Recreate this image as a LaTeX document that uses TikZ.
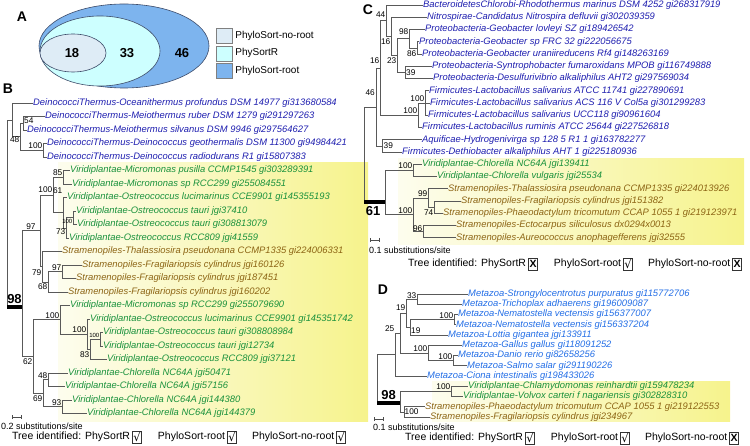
\documentclass[tikz,border=0pt]{standalone}
\usepackage{fontspec}
\setmainfont{Liberation Sans}
\newfontfamily\symfont{DejaVu Sans}
\usetikzlibrary{positioning, arrows.meta}
\definecolor{deino}{RGB}{30,30,175}
\definecolor{viri}{RGB}{25,145,60}
\definecolor{stram}{RGB}{140,100,20}
\definecolor{meta}{RGB}{35,110,230}
\definecolor{hlL}{RGB}{253,253,238}
\definecolor{hlR}{RGB}{246,243,140}
\definecolor{rootc}{RGB}{125,180,238}
\definecolor{physc}{RGB}{205,255,255}
\definecolor{norootc}{RGB}{222,236,246}
\definecolor{rim}{RGB}{60,75,105}
\tikzset{
  leaf/.style={anchor=west, inner sep=0pt, font=\fontsize{9.4}{10}\selectfont\itshape},
  br/.style={draw=black!65, line width=0.7pt},
  rootbar/.style={line width=4pt},
  boot/.style={inner sep=0pt, font=\fontsize{8.3}{9}\selectfont},
  bootsmall/.style={inner sep=0pt, font=\fontsize{6}{6}\selectfont},
  big/.style={inner sep=0pt, font=\fontsize{13}{13}\selectfont\bfseries},
  paneltag/.style={inner sep=0pt, font=\fontsize{14}{14}\selectfont\bfseries},
  idtxt/.style={anchor=west, inner sep=0pt, font=\fontsize{10.5}{11}\selectfont},
  subtxt/.style={anchor=west, inner sep=0pt, font=\fontsize{9}{9}\selectfont},
  keybox/.style={draw=black!50, minimum width=16pt, minimum height=15pt, inner sep=0pt},
  keytxt/.style={inner sep=0pt, font=\fontsize{10}{10}\selectfont},
  chk/.style={draw=black!80, line width=0.5pt, minimum width=9pt, minimum height=12pt, inner sep=0pt},
  tickyes/.style={chk, font=\symfont\fontsize{11.5}{11.5}\selectfont},
  tickno/.style={chk, font=\fontsize{10.5}{10.5}\selectfont\bfseries},
  scalebar/.style={draw=black!70, line width=0.6pt, {Bar[width=4pt]}-{Bar[width=4pt]}},
  hl/.style={left color=hlL, right color=hlR}
}
\begin{document}
\begin{tikzpicture}[x=1pt, y=-1pt]
\useasboundingbox (0,0) rectangle (750,446);

\node[paneltag] (tagA) at (22,17) {A};
\draw[fill=rootc, draw=rim, line width=0.6pt] (124,46) ellipse (85 and 42);
\draw[fill=physc, draw=rim, line width=0.6pt] (100,51) ellipse (60 and 35);
\draw[fill=norootc, draw=rim, line width=0.6pt] (73,53) ellipse (33 and 19);
\node[big] (n18) at (72,53) {18};
\node[big] (n33) at (127,53) {33};
\node[big] (n46) at (182,53) {46};
\node[keybox, fill=norootc] (k1) at (224,36) {};
\node[keytxt, right=3pt of k1] (k1t) {PhyloSort-no-root};
\node[keybox, fill=physc, below=2pt of k1] (k2) {};
\node[keytxt, right=3pt of k2] (k2t) {PhySortR};
\node[keybox, fill=rootc, below=2pt of k2] (k3) {};
\node[keytxt, right=3pt of k3] (k3t) {PhyloSort-root};

\node[paneltag] (tagB) at (8,89) {B};
\fill[hl] (58,163) rectangle (368,421);
\node[leaf,text=deino] (b1) at (33,103) {DeinococciThermus-Oceanithermus profundus DSM 14977 gi313680584};
\node[leaf,text=deino] (b2) at (45,116.5) {DeinococciThermus-Meiothermus ruber DSM 1279 gi291297263};
\node[leaf,text=deino] (b3) at (27,130) {DeinococciThermus-Meiothermus silvanus DSM 9946 gi297564627};
\node[leaf,text=deino] (b4) at (47,143.5) {DeinococciThermus-Deinococcus geothermalis DSM 11300 gi94984421};
\node[leaf,text=deino] (b5) at (47,157) {DeinococciThermus-Deinococcus radiodurans R1 gi15807383};
\node[leaf,text=viri] (b6) at (70,170.5) {Viridiplantae-Micromonas pusilla CCMP1545 gi303289391};
\node[leaf,text=viri] (b7) at (72,184) {Viridiplantae-Micromonas sp RCC299 gi255084551};
\node[leaf,text=viri] (b8) at (67,197.5) {Viridiplantae-Ostreococcus lucimarinus CCE9901 gi145355193};
\node[leaf,text=viri] (b9) at (76,211) {Viridiplantae-Ostreococcus tauri jgi37410};
\node[leaf,text=viri] (b10) at (77,224.5) {Viridiplantae-Ostreococcus tauri gi308813079};
\node[leaf,text=viri] (b11) at (69,238) {Viridiplantae-Ostreococcus RCC809 jgi41559};
\node[leaf,text=stram] (b12) at (62,251.5) {Stramenopiles-Thalassiosira pseudonana CCMP1335 gi224006331};
\node[leaf,text=stram] (b13) at (82,265) {Stramenopiles-Fragilariopsis cylindrus jgi160126};
\node[leaf,text=stram] (b14) at (76,278.5) {Stramenopiles-Fragilariopsis cylindrus jgi187451};
\node[leaf,text=stram] (b15) at (68,292) {Stramenopiles-Fragilariopsis cylindrus jgi160202};
\node[leaf,text=viri] (b16) at (70,305.5) {Viridiplantae-Micromonas sp RCC299 gi255079690};
\node[leaf,text=viri] (b17) at (90,319) {Viridiplantae-Ostreococcus lucimarinus CCE9901 gi145351742};
\node[leaf,text=viri] (b18) at (103,332.5) {Viridiplantae-Ostreococcus tauri gi308808984};
\node[leaf,text=viri] (b19) at (103,346) {Viridiplantae-Ostreococcus tauri jgi12734};
\node[leaf,text=viri] (b20) at (107,359.5) {Viridiplantae-Ostreococcus RCC809 jgi37121};
\node[leaf,text=viri] (b21) at (68,373) {Viridiplantae-Chlorella NC64A jgi50471};
\node[leaf,text=viri] (b22) at (65,386.5) {Viridiplantae-Chlorella NC64A jgi57156};
\node[leaf,text=viri] (b23) at (72,400) {Viridiplantae-Chlorella NC64A jgi144380};
\node[leaf,text=viri] (b24) at (87,413.5) {Viridiplantae-Chlorella NC64A jgi144379};
\coordinate (bRoot) at (7,307);
\coordinate (dTop) at (12,119.88);
\coordinate (d48) at (20,136.75);
\coordinate (d54) at (23,123.25);
\coordinate (d100) at (43,150.25);
\coordinate (b98) at (22,307);
\coordinate (g97) at (40,230.83);
\coordinate (g100) at (53,194.97);
\coordinate (g85) at (63,177.25);
\coordinate (g61) at (63,212.69);
\coordinate (g73) at (66,227.88);
\coordinate (g100s) at (73,217.75);
\coordinate (s79) at (42,266.69);
\coordinate (s68) at (48,281.88);
\coordinate (s97) at (62,271.75);
\coordinate (v62) at (33,356.55);
\coordinate (n100c) at (60,319.84);
\coordinate (n100b) at (87,334.19);
\coordinate (n83) at (90,349.38);
\coordinate (n100a) at (100,339.25);
\coordinate (ch69) at (43,393.25);
\coordinate (ch48) at (48,379.75);
\coordinate (ch93) at (62,406.75);
\draw[br] (bRoot) |- (dTop) (dTop) |- (b1.west) (dTop) |- (d48)
  (d48) |- (d54) (d48) |- (d100) (d54) |- (b2.west) (d54) |- (b3.west)
  (d100) |- (b4.west) (d100) |- (b5.west);
\draw[rootbar] (bRoot) -- (b98);
\draw[br] (b98) |- (g97) (b98) |- (v62)
  (g97) |- (g100) (g97) |- (s79)
  (g100) |- (g85) (g100) |- (g61)
  (g85) |- (b6.west) (g85) |- (b7.west)
  (g61) |- (b8.west) (g61) |- (g73)
  (g73) |- (g100s) (g73) |- (b11.west)
  (g100s) |- (b9.west) (g100s) |- (b10.west)
  (s79) |- (b12.west) (s79) |- (s68)
  (s68) |- (s97) (s68) |- (b15.west)
  (s97) |- (b13.west) (s97) |- (b14.west)
  (v62) |- (n100c) (v62) |- (ch69)
  (n100c) |- (b16.west) (n100c) |- (n100b)
  (n100b) |- (b17.west) (n100b) |- (n83)
  (n83) |- (n100a) (n83) |- (b20.west)
  (n100a) |- (b18.west) (n100a) |- (b19.west)
  (ch69) |- (ch48) (ch69) |- (ch93)
  (ch48) |- (b21.west) (ch48) |- (b22.west)
  (ch93) |- (b23.west) (ch93) |- (b24.west);
\node[boot, anchor=north west] (l54) at (24,117.5) {54};
\node[boot, anchor=east] (l48) at (19.5,140) {48};
\node[boot, anchor=south east] (l100d) at (42.5,148.75) {100};
\node[big, anchor=south] (l98) at (14.5,304) {98};
\node[boot, anchor=south] (l97g) at (31,229.3) {97};
\node[boot, anchor=south east] (l100g) at (52.5,193.2) {100};
\node[boot, anchor=south east] (l85) at (62.5,176.1) {85};
\node[boot, anchor=east] (l61) at (62.5,191) {61};
\node[bootsmall, anchor=north east] (l100s) at (72.5,219.25) {100};
\node[boot, anchor=east] (l73) at (65.5,231.6) {73};
\node[boot, anchor=east] (l79) at (41.5,272.6) {79};
\node[boot, anchor=north east] (l68) at (47.5,283.4) {68};
\node[boot, anchor=south east] (l97s) at (61.5,270.5) {97};
\node[boot, anchor=north east] (l62) at (32.5,358.5) {62};
\node[boot, anchor=south east] (l100c) at (59.5,318.3) {100};
\node[boot, anchor=south east] (l100b) at (86.5,332.6) {100};
\node[bootsmall, anchor=south east] (l100a) at (99.5,338) {100};
\node[boot, anchor=east] (l83) at (89.5,354.9) {83};
\node[boot, anchor=south east] (l48c) at (47.5,378.6) {48};
\node[boot, anchor=north east] (l69) at (42.5,395.3) {69};
\node[boot, anchor=south east] (l93) at (61.5,405.5) {93};
\coordinate (sbB1) at (12,417);
\coordinate (sbB2) at (22,417);
\draw[scalebar] (sbB1) -- (sbB2);
\node[subtxt] (subB) at (1,426.5) {0.2 substitutions/site};
\node[idtxt] (tiB) at (12,437) {Tree identified: PhySortR};
\node[tickyes, right=2pt of tiB] (tiBa) {√};
\node[idtxt, right=16pt of tiBa] (tiBb) {PhyloSort-root};
\node[tickyes, right=2pt of tiBb] (tiBc) {√};
\node[idtxt, right=15pt of tiBc] (tiBd) {PhyloSort-no-root};
\node[tickyes, right=2pt of tiBd] (tiBe) {√};

\node[paneltag] (tagC) at (368,10) {C};
\fill[hl] (398,159) rectangle (744,245);
\node[leaf,text=deino] (c1) at (423,5) {BacteroidetesChlorobi-Rhodothermus marinus DSM 4252 gi268317919};
\node[leaf,text=deino] (c2) at (427,17.25) {Nitrospirae-Candidatus Nitrospira defluvii gi302039359};
\node[leaf,text=deino] (c3) at (425,29.5) {Proteobacteria-Geobacter lovleyi SZ gi189426542};
\node[leaf,text=deino] (c4) at (419,41.75) {Proteobacteria-Geobacter sp FRC 32 gi222056675};
\node[leaf,text=deino] (c5) at (422,54) {Proteobacteria-Geobacter uraniireducens Rf4 gi148263169};
\node[leaf,text=deino] (c6) at (432,66.25) {Proteobacteria-Syntrophobacter fumaroxidans MPOB gi116749888};
\node[leaf,text=deino] (c7) at (433,78.5) {Proteobacteria-Desulfurivibrio alkaliphilus AHT2 gi297569034};
\node[leaf,text=deino] (c8) at (429,90.75) {Firmicutes-Lactobacillus salivarius ATCC 11741 gi227890691};
\node[leaf,text=deino] (c9) at (430,103) {Firmicutes-Lactobacillus salivarius ACS 116 V Col5a gi301299283};
\node[leaf,text=deino] (c10) at (428,115.25) {Firmicutes-Lactobacillus salivarius UCC118 gi90961604};
\node[leaf,text=deino] (c11) at (422,127.5) {Firmicutes-Lactobacillus ruminis ATCC 25644 gi227526818};
\node[leaf,text=deino] (c12) at (422,139.75) {Aquificae-Hydrogenivirga sp 128 5 R1 1 gi163782277};
\node[leaf,text=deino] (c13) at (402,152) {Firmicutes-Dethiobacter alkaliphilus AHT 1 gi225180936};
\node[leaf,text=viri] (c14) at (422,164.25) {Viridiplantae-Chlorella NC64A jgi139411};
\node[leaf,text=viri] (c15) at (437,176.5) {Viridiplantae-Chlorella vulgaris jgi25534};
\node[leaf,text=stram] (c16) at (448,188.75) {Stramenopiles-Thalassiosira pseudonana CCMP1335 gi224013926};
\node[leaf,text=stram] (c17) at (461,201) {Stramenopiles-Fragilariopsis cylindrus jgi151382};
\node[leaf,text=stram] (c18) at (443,213.25) {Stramenopiles-Phaeodactylum tricomutum CCAP 1055 1 gi219123971};
\node[leaf,text=stram] (c19) at (456,225.5) {Stramenopiles-Ectocarpus siliculosus dx0294x0013};
\node[leaf,text=stram] (c20) at (456,237.75) {Stramenopiles-Aureococcus anophagefferens jgi32555};
\coordinate (cRoot) at (364,202);
\coordinate (cq) at (376,106.92);
\coordinate (p16b) at (380,67.97);
\coordinate (p44) at (386,20.7);
\coordinate (p16a) at (391,36.39);
\coordinate (p23) at (397,55.53);
\coordinate (p98) at (409,38.69);
\coordinate (p86) at (417,47.88);
\coordinate (p39) at (405,72.38);
\coordinate (L100b) at (418,115.25);
\coordinate (L100a) at (425,103);
\coordinate (p39b) at (382,145.88);
\coordinate (c61) at (385,202);
\coordinate (cv100) at (413,170.38);
\coordinate (cs100) at (413,214.78);
\coordinate (cs99) at (428,197.94);
\coordinate (cs74) at (434,207.13);
\coordinate (cs96) at (423,231.63);
\draw[br] (cRoot) |- (cq) (cq) |- (p16b) (cq) |- (p39b)
  (p16b) |- (p44) (p16b) |- (L100b)
  (p44) |- (c1.west) (p44) |- (p16a)
  (p16a) |- (c2.west) (p16a) |- (p23)
  (p23) |- (p98) (p23) |- (p39)
  (p98) |- (c3.west) (p98) |- (p86)
  (p86) |- (c4.west) (p86) |- (c5.west)
  (p39) |- (c6.west) (p39) |- (c7.west)
  (L100b) |- (L100a) (L100b) |- (c11.west)
  (L100a) |- (c8.west) (L100a) |- (c9.west) (L100a) |- (c10.west)
  (p39b) |- (c12.west) (p39b) |- (c13.west);
\draw[rootbar] (cRoot) -- (c61);
\draw[br] (c61) |- (cv100) (c61) |- (cs100)
  (cv100) |- (c14.west) (cv100) |- (c15.west)
  (cs100) |- (cs99) (cs100) |- (cs96)
  (cs99) |- (c16.west) (cs99) |- (cs74)
  (cs74) |- (c17.west) (cs74) |- (c18.west)
  (cs96) |- (c19.west) (cs96) |- (c20.west);
\node[boot, anchor=east] (q44) at (385.5,15) {44};
\node[boot, anchor=east] (q16a) at (390.5,42) {16};
\node[boot, anchor=east] (q98) at (408.5,31.5) {98};
\node[boot, anchor=east] (q86) at (416.5,53.5) {86};
\node[boot, anchor=east] (q23) at (396.5,60.5) {23};
\node[boot, anchor=west] (q39) at (406,72.4) {39};
\node[boot, anchor=east] (q16b) at (379.5,60.5) {16};
\node[boot, anchor=east] (q46) at (375,93) {46};
\node[boot, anchor=south east] (q100a) at (424.5,101.5) {100};
\node[boot, anchor=south east] (q100b) at (417.5,113.75) {100};
\node[boot, anchor=west] (q39b) at (383.5,146) {39};
\node[big, anchor=north] (q61) at (373,206) {61};
\node[boot, anchor=south east] (q100v) at (412.5,169) {100};
\node[boot, anchor=south east] (q99) at (427.5,196.5) {99};
\node[boot, anchor=east] (q74) at (433.5,213) {74};
\node[boot, anchor=east] (q96) at (422.5,228.5) {96};
\node[boot, anchor=south east] (q100s) at (412.5,213.5) {100};
\coordinate (sbC1) at (370,240);
\coordinate (sbC2) at (380,240);
\draw[scalebar] (sbC1) -- (sbC2);
\node[subtxt] (subC) at (369,250) {0.1 substitutions/site};
\node[idtxt] (tiC) at (408,264) {Tree identified: PhySortR};
\node[tickno, right=2pt of tiC] (tiCa) {X};
\node[idtxt, right=16pt of tiCa] (tiCb) {PhyloSort-root};
\node[tickyes, right=2pt of tiCb] (tiCc) {√};
\node[idtxt, right=15pt of tiCc] (tiCd) {PhyloSort-no-root};
\node[tickno, right=2pt of tiCd] (tiCe) {X};

\node[paneltag] (tagD) at (383,290) {D};
\fill[hl] (432,382) rectangle (730,421);
\node[leaf,text=meta] (m1) at (468,294) {Metazoa-Strongylocentrotus purpuratus gi115772706};
\node[leaf,text=meta] (m2) at (462,304.25) {Metazoa-Trichoplax adhaerens gi196009087};
\node[leaf,text=meta] (m3) at (458,314.5) {Metazoa-Nematostella vectensis gi156377007};
\node[leaf,text=meta] (m4) at (456,324.75) {Metazoa-Nematostella vectensis gi156337204};
\node[leaf,text=meta] (m5) at (448,335) {Metazoa-Lottia gigantea jgi133911};
\node[leaf,text=meta] (m6) at (462,345.25) {Metazoa-Gallus gallus gi118091252};
\node[leaf,text=meta] (m7) at (458,355.5) {Metazoa-Danio rerio gi82658256};
\node[leaf,text=meta] (m8) at (467,365.75) {Metazoa-Salmo salar gi291190226};
\node[leaf,text=meta] (m9) at (427,376) {Metazoa-Ciona intestinalis gi198433026};
\node[leaf,text=viri] (m10) at (468,386.25) {Viridiplantae-Chlamydomonas reinhardtii gi159478234};
\node[leaf,text=viri] (m11) at (463,396.5) {Viridiplantae-Volvox carteri f nagariensis gi302828310};
\node[leaf,text=stram] (m12) at (425,406.75) {Stramenopiles-Phaeodactylum tricomutum CCAP 1055 1 gi219122553};
\node[leaf,text=stram] (m13) at (430,417) {Stramenopiles-Fragilariopsis cylindrus jgi234967};
\coordinate (dRoot) at (377,403);
\coordinate (d25) at (395,354.54);
\coordinate (dX) at (400,333.08);
\coordinate (d19a) at (406,313.22);
\coordinate (d33) at (417,299.13);
\coordinate (d19b) at (410,327.31);
\coordinate (dn100) at (454,319.63);
\coordinate (dg100) at (428,352.94);
\coordinate (dd100) at (453,360.63);
\coordinate (dcl) at (400,403);
\coordinate (dv100) at (451,391.38);
\coordinate (ds100) at (404,411.88);
\draw[br] (dRoot) |- (d25) (d25) |- (dX) (d25) |- (m9.west)
  (dX) |- (d19a) (dX) |- (dg100)
  (d19a) |- (d33) (d19a) |- (d19b)
  (d33) |- (m1.west) (d33) |- (m2.west)
  (d19b) |- (dn100) (d19b) |- (m5.west)
  (dn100) |- (m3.west) (dn100) |- (m4.west)
  (dg100) |- (m6.west) (dg100) |- (dd100)
  (dd100) |- (m7.west) (dd100) |- (m8.west);
\draw[rootbar] (dRoot) -- (dcl);
\draw[br] (dcl) |- (dv100) (dcl) |- (ds100)
  (dv100) |- (m10.west) (dv100) |- (m11.west)
  (ds100) |- (m12.west) (ds100) |- (m13.west);
\node[boot, anchor=south east] (e33) at (416.5,298.5) {33};
\node[boot, anchor=east] (e19a) at (405.5,308) {19};
\node[boot, anchor=south west] (e19b) at (411,334) {19};
\node[boot, anchor=south east] (e100n) at (453.5,318.5) {100};
\node[boot, anchor=south east] (e25) at (394.5,332) {25};
\node[boot, anchor=south east] (e100g) at (427.5,351.5) {100};
\node[boot, anchor=south east] (e100d) at (452.5,359.5) {100};
\node[big, anchor=south] (e98) at (388.5,400) {98};
\node[boot, anchor=south east] (e100v) at (450.5,390) {100};
\node[boot, anchor=west] (e100s) at (404.5,412) {100};
\coordinate (sbD1) at (374,419);
\coordinate (sbD2) at (384,419);
\draw[scalebar] (sbD1) -- (sbD2);
\node[subtxt] (subD) at (373,427.5) {0.1 substitutions/site};
\node[idtxt] (tiD) at (405,438) {Tree identified: PhySortR};
\node[tickyes, right=2pt of tiD] (tiDa) {√};
\node[idtxt, right=16pt of tiDa] (tiDb) {PhyloSort-root};
\node[tickyes, right=2pt of tiDb] (tiDc) {√};
\node[idtxt, right=15pt of tiDc] (tiDd) {PhyloSort-no-root};
\node[tickno, right=2pt of tiDd] (tiDe) {X};
\end{tikzpicture}
\end{document}
